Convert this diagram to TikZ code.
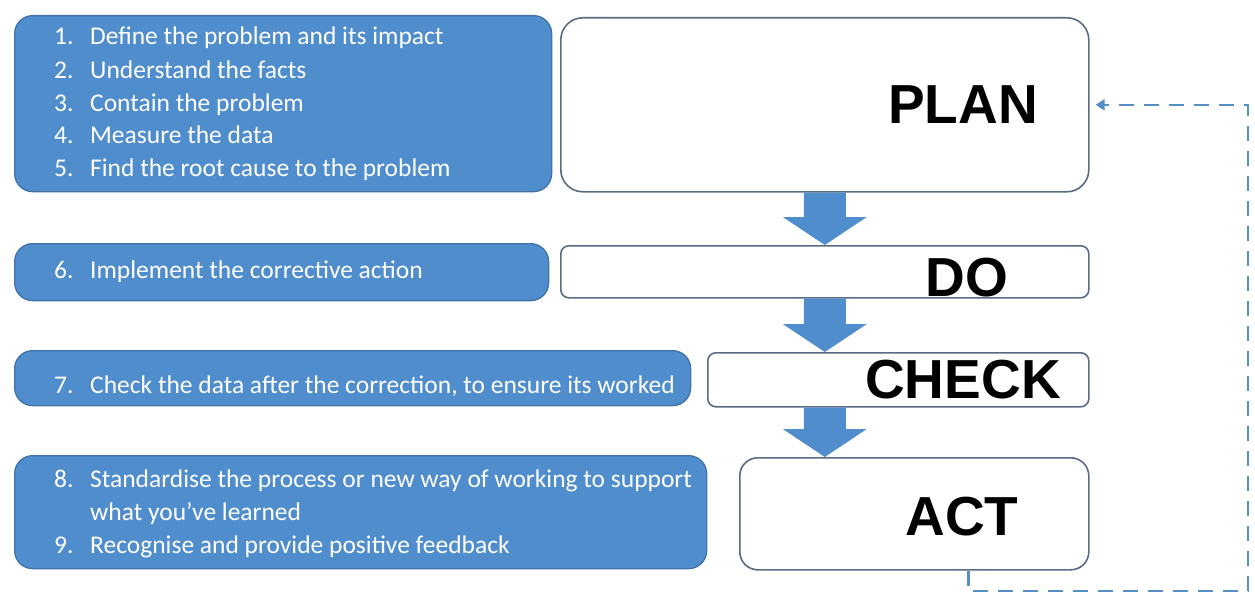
\documentclass[tikz,border=0pt]{standalone}
\usepackage{fontspec}
\setmainfont{Carlito}
\newfontfamily\labelfont{Liberation Sans}
\usetikzlibrary{calc,arrows.meta}

\definecolor{stepblue}{RGB}{80,141,205}
\definecolor{stepedge}{RGB}{66,114,168}
\definecolor{phaseedge}{RGB}{90,108,132}
\definecolor{loopblue}{RGB}{86,142,198}

\tikzset{
  stepbox/.style={draw=stepedge,fill=stepblue,line width=1.3pt,anchor=north west,inner sep=0pt,rounded corners=18pt},
  phasebox/.style={draw=phaseedge,fill=white,line width=1.6pt,anchor=north west,inner sep=0pt},
  steptext/.style={anchor=base west,inner sep=0pt,text=white,font=\fontsize{25.5}{30}\selectfont},
  phasetext/.style={anchor=base,inner sep=0pt,font=\labelfont\bfseries\fontsize{55}{60}\selectfont},
  flow/.style={fill=stepblue},
  loopline/.style={draw=loopblue,line width=2.5pt,dash pattern=on 15pt off 10pt},
}

\begin{document}
\begin{tikzpicture}[x=1pt,y=-1pt]
    \useasboundingbox (0,0) rectangle (1255,594);

    % left column: the steps
    \node[stepbox,minimum width=537pt,minimum height=176pt] (plansteps) at (14,15) {};
    \node[stepbox,minimum width=534pt,minimum height=57pt] (dosteps) at (14,243) {};
    \node[stepbox,minimum width=676pt,minimum height=55pt] (checksteps) at (14,350) {};
    \node[stepbox,minimum width=692pt,minimum height=113pt] (actsteps) at (14,455) {};

    \foreach \n/\txt/\y in {1/Define the problem and its impact/45,
                            2/Understand the facts/78,
                            3/Contain the problem/111,
                            4/Measure the data/143,
                            5/Find the root cause to the problem/176,
                            6/Implement the corrective action/278,
                            7/{Check the data after the correction, to ensure its worked}/393,
                            8/Standardise the process or new way of working to support/487,
                            9/Recognise and provide positive feedback/553}
      \node[steptext] (step\n) at (54,\y) {\makebox[36pt][l]{\n.}\txt};
    \node[steptext] (step8b) at (90,520) {what you’ve learned};

    % right column: the phases
    \node[phasebox,rounded corners=22pt,minimum width=528pt,minimum height=174pt] (plan) at (560,17) {};
    \node[phasebox,rounded corners=8pt,minimum width=528pt,minimum height=52pt] (do) at (560,245) {};
    \node[phasebox,rounded corners=8pt,minimum width=381pt,minimum height=54pt] (check) at (707,352) {};
    \node[phasebox,rounded corners=18pt,minimum width=349pt,minimum height=112pt] (act) at (739,457) {};

    \node[phasetext] (plantext) at (963,123) {PLAN};
    \node[phasetext] (dotext) at (967,296) {DO};
    \node[phasetext] (checktext) at (963,398) {CHECK};
    \node[phasetext] (acttext) at (962,535) {ACT};

    % block arrows between the phases
    \foreach \a/\b in {plan/do,do/check,check/act}
      \fill[flow] ($(\a.south -| plan.south)+(-21,0)$) -- ($(\a.south -| plan.south)+(21,0)$)
        -- ($(\b.north -| plan.south)+(21,-28)$) -- ($(\b.north -| plan.south)+(42,-28)$)
        -- (\b.north -| plan.south)
        -- ($(\b.north -| plan.south)+(-42,-28)$) -- ($(\b.north -| plan.south)+(-21,-28)$) -- cycle;

    % feedback loop
    \coordinate (loopstart) at ($(act.south)+(54,0)$);
    \coordinate (loopcorner) at (1248,591);
    \draw[loopline,-{Triangle[length=9pt,width=11pt]},shorten >=6pt]
      (loopstart) |- (loopcorner) |- (plan.east);
\end{tikzpicture}
\end{document}
